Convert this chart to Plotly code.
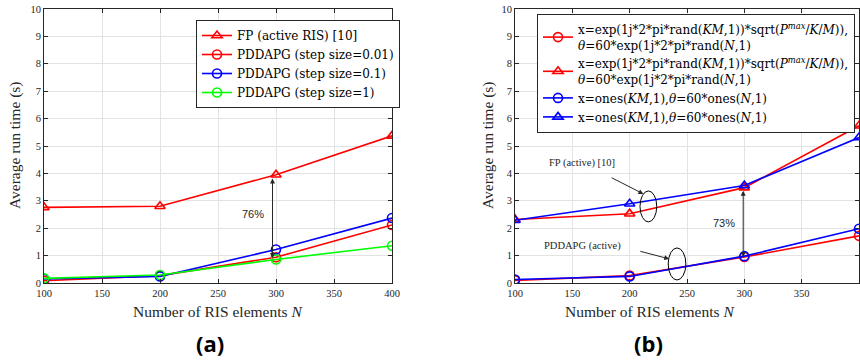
import plotly.graph_objects as go

# ---------------- data ----------------
N_vals = [100, 200, 300, 400]

# (a)
fp_active = [2.76, 2.80, 3.95, 5.37]
pdd_001 = [0.08, 0.27, 0.94, 2.12]
pdd_01 = [0.15, 0.24, 1.22, 2.37]
pdd_1 = [0.17, 0.29, 0.86, 1.36]

# (b)
pdd_rand = [0.09, 0.27, 0.95, 1.72]
fp_rand = [2.32, 2.53, 3.48, 5.74]
pdd_ones = [0.13, 0.24, 0.98, 1.98]
fp_ones = [2.29, 2.89, 3.56, 5.31]

x_ticks = [100, 150, 200, 250, 300, 350, 400]
y_ticks = list(range(0, 11))

names_a = ["FP (active RIS) [10]", "PDDAPG (step size=0.01)",
           "PDDAPG (step size=0.1)", "PDDAPG (step size=1)"]
rand_name = ("x=exp(1j*2*pi*rand(<i>KM</i>,1))*sqrt(<i>P</i><sup><i>max</i></sup>/<i>K</i>/<i>M</i>)),"
             "<br><i>θ</i>=60*exp(1j*2*pi*rand(<i>N</i>,1)")
ones_name = "x=ones(<i>KM</i>,1),<i>θ</i>=60*ones(<i>N</i>,1)"

SERIF = "Liberation Serif, DejaVu Serif, serif"
LEGSERIF = "DejaVu Serif, serif"
SANS = "Liberation Sans, Arial, sans-serif"
RED, BLUE, GREEN = "#ff0000", "#0000ff", "#00ff00"

fig = go.Figure()

def add(x, y, name, color, symbol, xa, ya, legend):
    fig.add_trace(go.Scatter(
        x=x, y=y, name=name, mode="lines+markers",
        line=dict(color=color, width=1.6),
        marker=dict(symbol=symbol, size=9, color=color,
                    line=dict(color=color, width=1.6)),
        xaxis=xa, yaxis=ya, legend=legend))

add(N_vals, fp_active, names_a[0], RED, "triangle-up-open", "x", "y", "legend")
add(N_vals, pdd_001, names_a[1], RED, "circle-open", "x", "y", "legend")
add(N_vals, pdd_01, names_a[2], BLUE, "circle-open", "x", "y", "legend")
add(N_vals, pdd_1, names_a[3], GREEN, "circle-open", "x", "y", "legend")

add(N_vals, pdd_rand, rand_name, RED, "circle-open", "x2", "y2", "legend2")
add(N_vals, fp_rand, rand_name, RED, "triangle-up-open", "x2", "y2", "legend2")
add(N_vals, pdd_ones, ones_name, BLUE, "circle-open", "x2", "y2", "legend2")
add(N_vals, fp_ones, ones_name, BLUE, "triangle-up-open", "x2", "y2", "legend2")

ax_common = dict(
    showgrid=True, gridcolor="#e3e3e3", gridwidth=1, zeroline=False,
    showline=True, linecolor="#262626", linewidth=1, mirror="ticks",
    ticks="inside", ticklen=4, tickcolor="#262626", automargin=False,
    tickfont=dict(family=SERIF, size=10.5, color="#262626"),
)

fig.update_layout(
    width=860, height=363,
    margin=dict(l=0, r=0, t=0, b=0, autoexpand=False),
    paper_bgcolor="white", plot_bgcolor="white",
    font=dict(family=SERIF),
    xaxis=dict(domain=[44/860, 392/860], range=[100, 400], tickvals=x_ticks, anchor="y", **ax_common),
    yaxis=dict(domain=[1-283/363, 1-9/363], range=[0, 10], tickvals=y_ticks, anchor="x", **ax_common),
    xaxis2=dict(domain=[515/860, 859/860], range=[100, 400], tickvals=x_ticks, anchor="y2", **ax_common),
    yaxis2=dict(domain=[1-283/363, 1-9/363], range=[0, 10], tickvals=y_ticks, anchor="x2", **ax_common),
    showlegend=True,
    legend=dict(x=196/860, y=1-20/363, xanchor="left", yanchor="top",
                bgcolor="white", bordercolor="#262626", borderwidth=1,
                font=dict(family=LEGSERIF, size=12, color="black"),
                itemwidth=30, tracegroupgap=0),
    legend2=dict(x=537/860, y=1-14/363, xanchor="left", yanchor="top",
                 bgcolor="white", bordercolor="#262626", borderwidth=1,
                 font=dict(family=LEGSERIF, size=12, color="black"),
                 itemwidth=30, tracegroupgap=0),
)

ann = []
# axis titles
for cx in (218, 650):
    ann.append(dict(x=cx/860, y=1-311/363, xref="paper", yref="paper",
                    xanchor="center", yanchor="middle",
                    text="Number of RIS elements <i>N</i>", showarrow=False,
                    font=dict(family=SERIF, size=15.5, color="#262626")))
for cx in (15, 488):
    ann.append(dict(x=cx/860, y=1-145/363, xref="paper", yref="paper",
                    xanchor="center", yanchor="middle",
                    text="Average run time (s)", textangle=-90, showarrow=False,
                    font=dict(family=SERIF, size=15.5, color="#262626")))
# panel labels
ann.append(dict(x=210/860, y=1-343/363, xref="paper", yref="paper", text="<b>(a)</b>",
                xanchor="center", yanchor="middle",
                showarrow=False, font=dict(family="Open Sans", size=22, color="black")))
ann.append(dict(x=648/860, y=1-343/363, xref="paper", yref="paper", text="<b>(b)</b>",
                xanchor="center", yanchor="middle",
                showarrow=False, font=dict(family="Open Sans", size=22, color="black")))

# (a) double arrow + 76%
ann.append(dict(x=297, y=0.91, ax=297, ay=3.87, xref="x", yref="y", axref="x", ayref="y",
                showarrow=True, arrowhead=2, startarrowhead=2, arrowside="end+start",
                arrowsize=1, arrowwidth=1, arrowcolor="#262626", text=""))
ann.append(dict(x=280, y=2.52, xref="x", yref="y", text="76%", showarrow=False,
                font=dict(family=SANS, size=11, color="#262626")))

# (b) double arrow + 73%
ann.append(dict(x=299, y=0.95, ax=299, ay=3.42, xref="x2", yref="y2", axref="x2", ayref="y2",
                showarrow=True, arrowhead=2, startarrowhead=2, arrowside="end+start",
                arrowsize=1, arrowwidth=1, arrowcolor="#262626", text=""))
ann.append(dict(x=282, y=2.2, xref="x2", yref="y2", text="73%", showarrow=False,
                font=dict(family=SANS, size=11, color="#262626")))

# (b) labels with arrows
ann.append(dict(x=158.5, y=4.38, xref="x2", yref="y2", text="FP (active) [10]", showarrow=False,
                font=dict(family=SERIF, size=10.5, color="#262626")))
ann.append(dict(x=212, y=3.25, ax=183, ay=3.87, xref="x2", yref="y2", axref="x2", ayref="y2",
                showarrow=True, arrowhead=2, arrowsize=1, arrowwidth=1, arrowcolor="#262626", text=""))
ann.append(dict(x=159, y=1.35, xref="x2", yref="y2", text="PDDAPG (active)", showarrow=False,
                font=dict(family=SERIF, size=10.5, color="#262626")))
ann.append(dict(x=234.5, y=0.88, ax=208, ay=1.17, xref="x2", yref="y2", axref="x2", ayref="y2",
                showarrow=True, arrowhead=2, arrowsize=1, arrowwidth=1, arrowcolor="#262626", text=""))

fig.update_layout(annotations=ann)

# ellipses in (b)
fig.add_shape(type="circle", xref="x2", yref="y2", x0=209, x1=223.6, y0=2.23, y1=3.36,
              line=dict(color="black", width=1))
fig.add_shape(type="circle", xref="x2", yref="y2", x0=233.6, x1=249, y0=0.11, y1=1.28,
              line=dict(color="black", width=1))

fig.write_html("out.html", config={"displayModeBar": False},
               post_script="document.body.style.margin='0px';")
